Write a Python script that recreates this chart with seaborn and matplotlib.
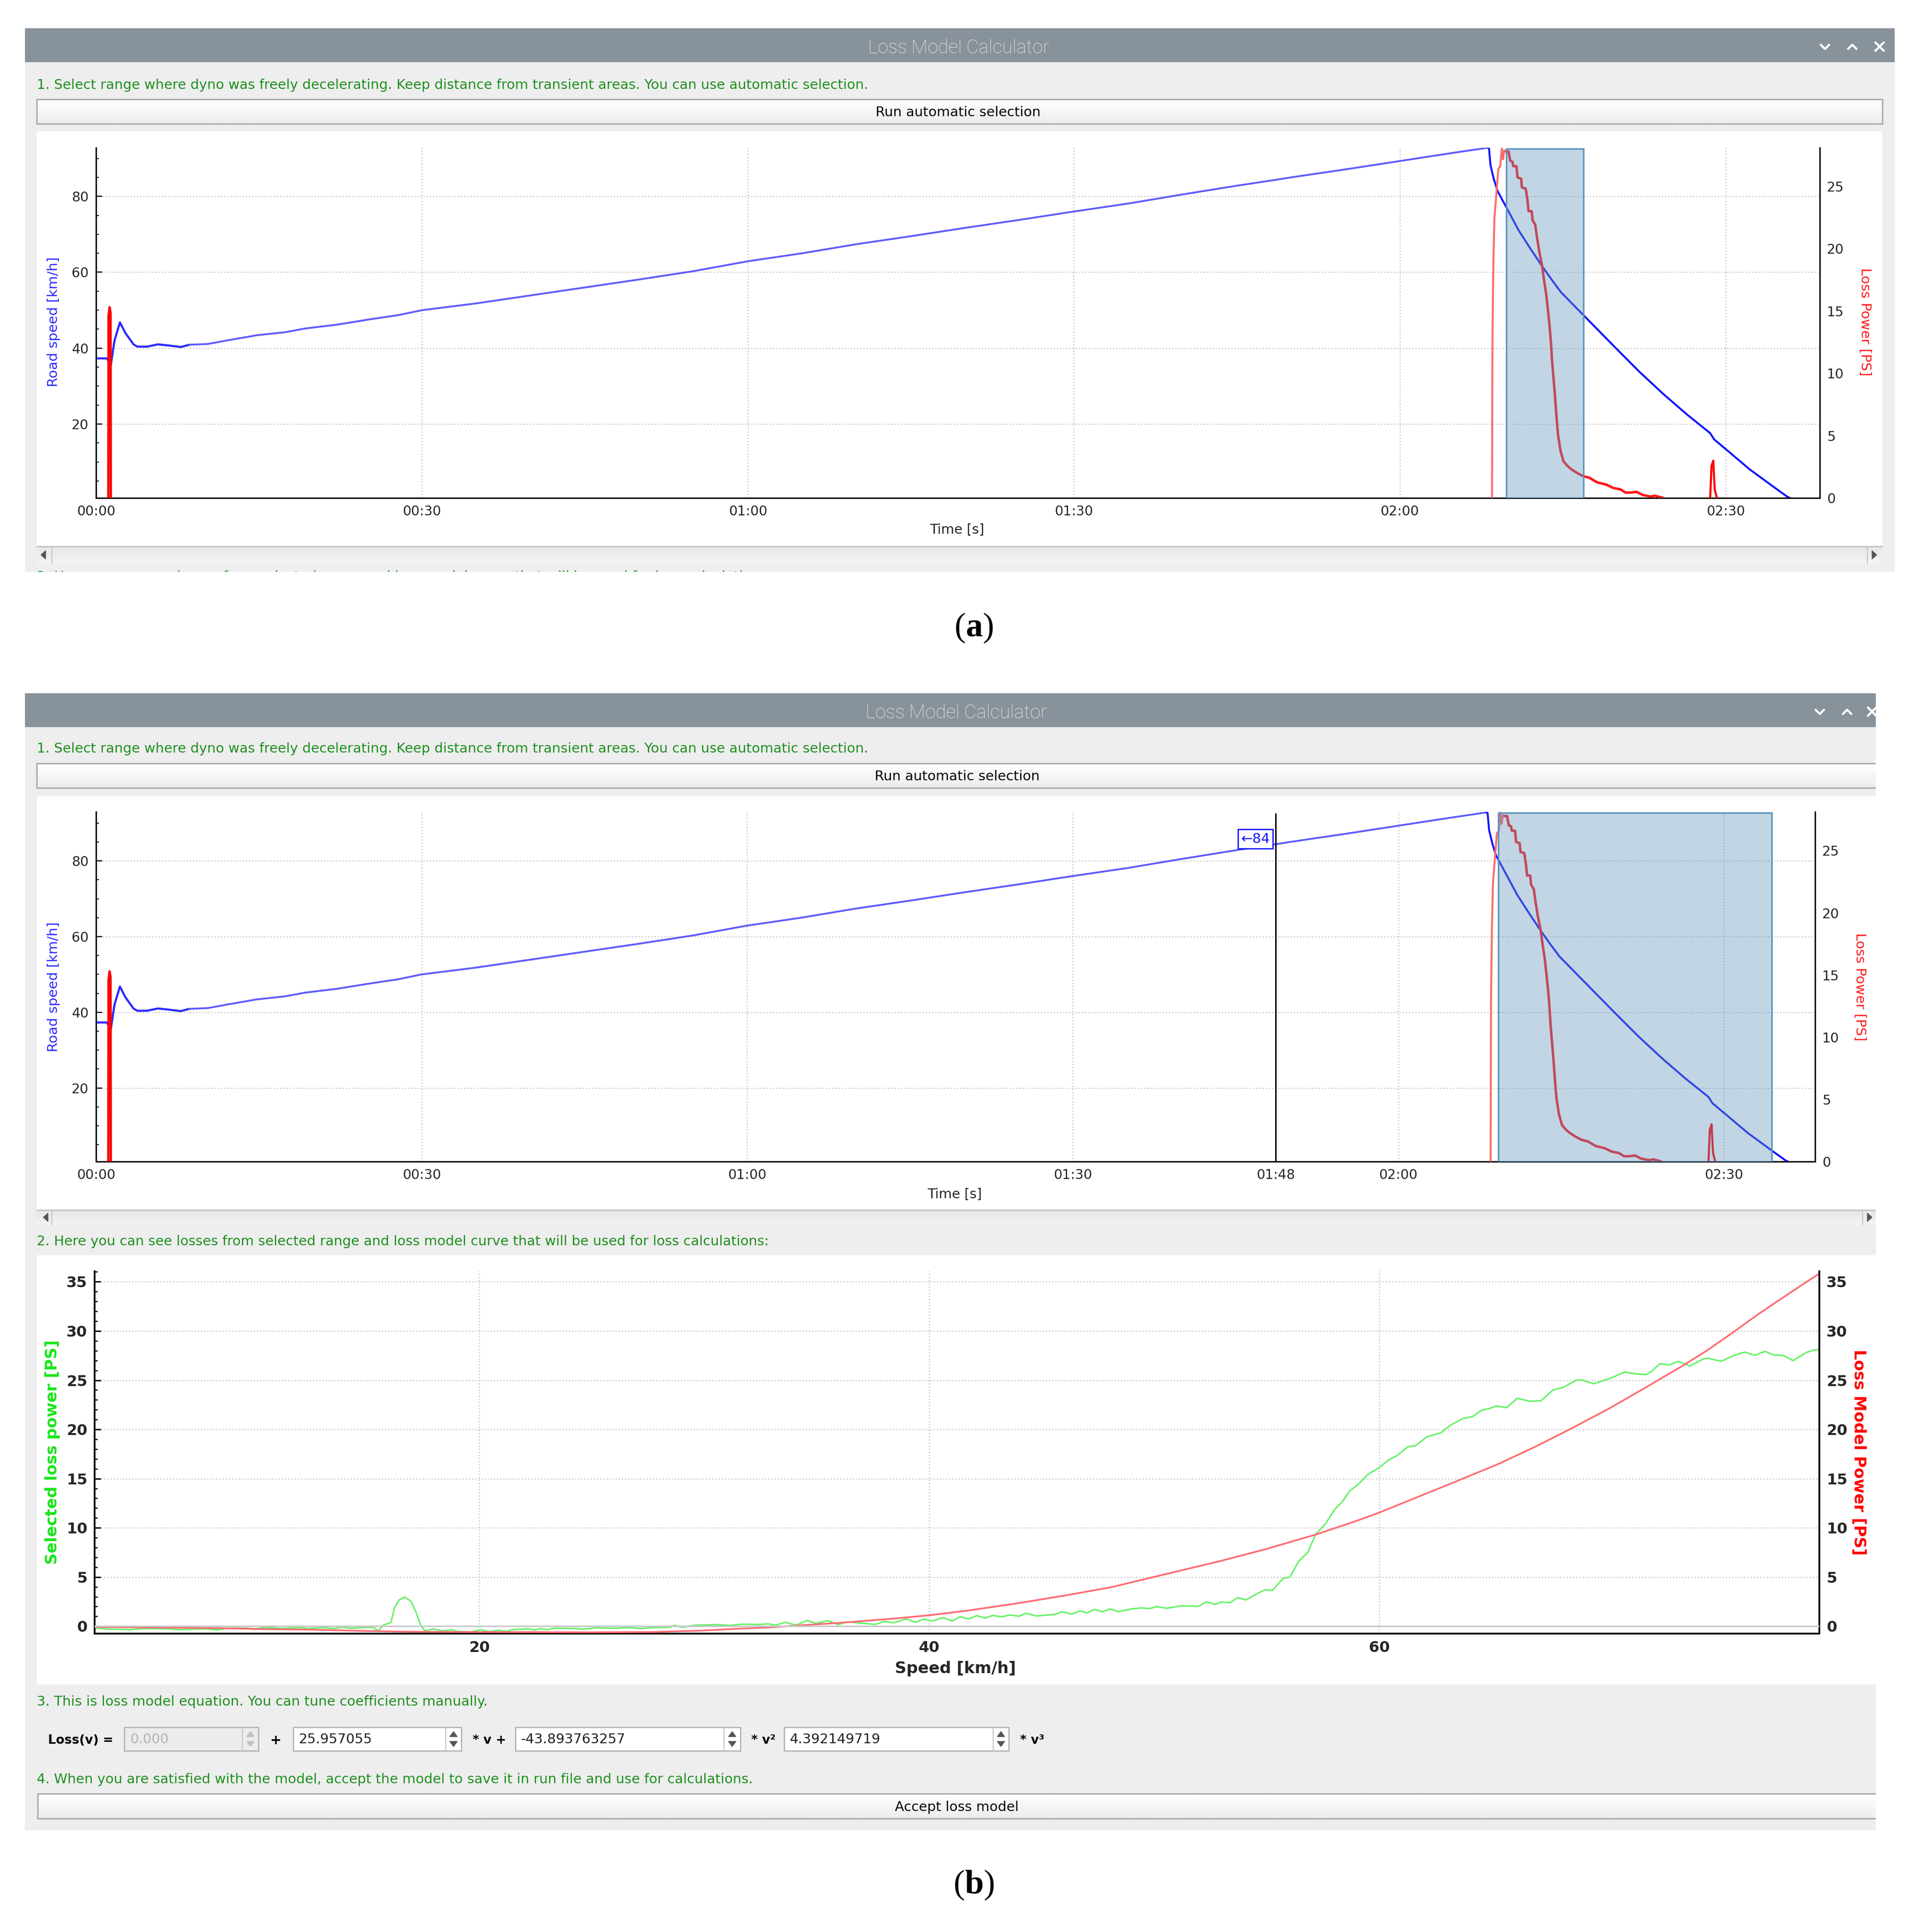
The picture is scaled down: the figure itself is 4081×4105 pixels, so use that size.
import matplotlib
matplotlib.use('Agg')
import numpy as np
import seaborn as sns
import matplotlib.pyplot as plt
from matplotlib.patches import Rectangle
from matplotlib.ticker import FixedLocator, MultipleLocator

W, H = 4081, 4105

# road speed over time (seconds, km/h)
start_t = [0, 1.0, 1.36, 1.7, 2.2, 2.7, 3.45, 3.8, 4.7, 5.7, 6.7, 7.8, 8.6]
start_v = [37.3, 37.3, 35.5, 42, 46.8, 44, 41, 40.4, 40.4, 41, 40.7, 40.3, 40.9]
rise_t = [8.6, 10.3, 12, 14.8, 17.4, 19.3, 22.2, 25, 27.8, 30, 35, 40, 45, 50, 55, 60, 65, 70, 75, 80,
          85, 90, 95, 100, 105, 108.7, 110, 115, 120, 125, 128.1]
rise_v = [40.9, 41.1, 42, 43.4, 44.2, 45.2, 46.2, 47.5, 48.7, 50, 51.8, 53.9, 56, 58.1, 60.3, 62.9, 65,
          67.4, 69.5, 71.7, 73.8, 76, 78.1, 80.5, 82.8, 84.4, 85, 87.1, 89.3, 91.5, 92.8]
fall_t = [128.1, 128.22, 128.36, 128.65, 129.01, 129.8, 130.96, 131.97, 133.13, 134, 134.86, 136.88, 139.92,
          142.08, 144.25, 146.42, 148.58, 148.94, 150.32, 152.19, 154.36, 155.66, 155.95]
fall_v = [92.8, 92.7, 88.2, 84.7, 81.4, 77.2, 71, 66.5, 61.5, 58, 54.7, 48.8, 39.94,
          33.74, 27.96, 22.58, 17.6, 15.97, 12.66, 8.12, 3.57, 0.88, 0.47]

# loss power over time (seconds, PS)
spike1_t = [1.13, 1.15, 1.25, 1.34, 1.36]
spike1_p = [0, 14.6, 15.3, 14.8, 0]
loss_up_t = [128.5, 128.54, 128.62, 128.72, 128.87, 129.08, 129.26, 129.4, 129.52, 129.62, 129.8]
loss_up_p = [0, 12.87, 18.65, 22.45, 24.07, 26.4, 26.6, 28.05, 27.15, 27.87, 27.78]
loss_down_t = [129.8, 130.02, 130.17, 130.38, 130.46, 130.75, 130.85, 131.18, 131.25, 131.6, 131.76, 131.86,
               132.15, 132.23, 132.48, 132.62, 132.84, 133.1, 133.3, 133.49, 133.63, 133.78, 133.92, 134.02,
               134.14, 134.28, 134.43, 134.57, 134.79, 135.08, 135.44, 135.8, 136.3, 136.88, 137.46, 138.18,
               139.05, 139.63, 140.35, 140.78, 141.29, 141.8, 142.37, 143.1, 143.5, 144.25]
loss_down_p = [27.78, 27.78, 27.05, 26.96, 26.6, 26.6, 25.7, 25.6, 24.9, 24.8, 23.9, 23,
               23, 22.27, 21.9, 21, 19.8, 18.65, 17.4, 16.3, 15.2, 13.95, 12.5, 11.06,
               9.8, 8.35, 6.54, 5.1, 3.83, 2.93, 2.57, 2.3, 2.02, 1.75, 1.62, 1.25,
               1.06, 0.81, 0.68, 0.43, 0.43, 0.49, 0.24, 0.11, 0.18, 0]
spike2_t = [148.58, 148.7, 148.87, 148.9, 149, 149.2]
spike2_p = [0, 2.57, 3.0, 2.3, 0.68, 0]

# selected loss power vs speed
green_v = [2.89, 3.53, 4.49, 5.02, 5.98, 6.62, 7.26, 7.9, 8.33, 8.86, 9.72, 9.93, 10.47, 11.21, 12.07, 12.39,
           13.03, 13.56, 13.88, 14.31, 14.95, 15.27, 15.5, 15.75, 16.07, 16.23, 16.44, 16.69, 16.97, 17.19, 17.4,
           17.59, 17.93, 18.36, 18.79, 19, 19.62, 20.05, 20.47, 20.85, 21.22, 21.43, 22.18, 22.45, 22.71, 23.03,
           23.35, 24.31, 24.63, 25.17, 26.02, 26.56, 27.2, 27.73, 28.48, 28.69, 29.01, 29.54, 30.61, 31.14, 31.68,
           32.42, 32.85, 33.17, 33.6, 34.08, 34.56, 34.98, 35.47, 35.95, 36.35, 36.94, 37.58, 38, 38.43, 38.96,
           39.39, 39.76, 40.14, 40.62, 41.01, 41.37, 41.74, 42.11, 42.49, 42.81, 43.23, 43.61, 43.98, 44.3, 44.78,
           45.58, 45.9, 46.33, 46.7, 47.02, 47.34, 47.69, 48.03, 48.41, 49, 49.41, 49.81, 50.11, 50.56, 51.21,
           51.96, 52.31, 52.71, 53.01, 53.36, 53.71, 54.07, 54.47, 54.92, 55.25, 55.72, 56.02, 56.42, 56.82, 57.17,
           57.62, 58.02, 58.37, 58.67, 59.07, 59.52, 59.97, 60.42, 60.82, 61.27, 61.62, 62.12, 62.73, 63.17, 63.72,
           64.16, 64.54, 64.87, 65.2, 65.67, 66.13, 66.68, 67.18, 67.73, 68.16, 68.77, 68.99, 69.54, 70.31, 70.91,
           71.29, 71.84, 72.06, 72.48, 72.89, 73.29, 73.82, 74.42, 74.64, 75.19, 75.8, 76.24, 76.7, 77.14, 77.55,
           77.94, 78.4, 78.98, 79.31, 79.56]
green_p = [-0.19, -0.29, -0.35, -0.24, -0.24, -0.35, -0.3, -0.27, -0.38, -0.19, -0.19, -0.32, -0.11, -0.22, -0.14, -0.24,
           -0.13, -0.24, -0.08, -0.21, -0.11, -0.11, -0.48, 0.13, 0.37, 1.88, 2.68, 2.97, 2.52, 1.4, 0.05,
           -0.48, -0.27, -0.48, -0.35, -0.51, -0.59, -0.35, -0.56, -0.4, -0.54, -0.35, -0.27, -0.38, -0.24, -0.35,
           -0.19, -0.24, -0.3, -0.16, -0.22, -0.13, -0.24, -0.13, -0.11, 0.1, -0.11, 0.1, 0.16, 0.08, 0.21,
           0.18, 0.24, 0.1, 0.4, 0.1, 0.57, 0.29, 0.57, 0.16, 0.45, 0.32, 0.19, 0.48, 0.35, 0.75,
           0.4, 0.72, 0.53, 0.88, 0.53, 0.96, 0.75, 1.07, 0.83, 1.09, 0.96, 1.15, 1.01, 1.31, 1.04,
           1.2, 1.48, 1.23, 1.55, 1.36, 1.71, 1.47, 1.76, 1.48, 1.76, 1.86, 1.8, 1.99, 1.83, 2.07,
           2.02, 2.47, 2.23, 2.47, 2.39, 2.91, 2.67, 3.19, 3.7, 3.63, 4.86, 4.97, 6.61, 7.49, 9.33,
           10.44, 11.88, 12.68, 13.71, 14.43, 15.47, 16.06, 16.9, 17.38, 18.23, 18.34, 19.25, 19.64, 20.43, 21.1,
           21.31, 21.94, 22.1, 22.37, 22.21, 23.16, 22.86, 22.9, 24.01, 24.25, 25.01, 25.01, 24.64, 25.23, 25.83,
           25.68, 25.55, 25.83, 26.66, 26.55, 26.91, 26.44, 27.18, 27.22, 26.91, 27.55, 27.85, 27.53, 27.93, 27.55,
           27.53, 26.99, 27.82, 28.06, 28.09]

# loss model curve vs speed
model_v = [2.89, 5.34, 8.2, 10.36, 12.49, 15, 16.76, 19.62, 25.06, 27.73, 29.97, 31.36, 32.96, 34.56, 36.35, 38.54,
           40.03, 41.74, 43.87, 46, 48.14, 50.06, 52.91, 54.92, 57.2, 58.92, 60.01, 60.92, 62.92, 65.26, 66.9,
           68.55, 70.2, 71.84, 73.49, 74.59, 75.69, 76.78, 77.88, 78.98, 79.62]
model_p = [-0.08, -0.13, -0.19, -0.29, -0.35, -0.48, -0.56, -0.59, -0.62, -0.59, -0.43, -0.27, -0.11, 0.13, 0.4, 0.8,
           1.12, 1.6, 2.31, 3.11, 3.99, 5.05, 6.61, 7.81, 9.33, 10.65, 11.56, 12.4, 14.25, 16.45, 18.2,
           20.1, 22.1, 24.25, 26.47, 28.05, 29.8, 31.6, 33.3, 34.97, 35.92]

time_ticks_a = [0, 30, 60, 90, 120, 150]
time_labels_a = ['00:00', '00:30', '01:00', '01:30', '02:00', '02:30']
cursor_t = 108.7
cursor_label = '01:48'
select_a = (129.8, 136.9)
select_b = (129.2, 154.4)
speed_ticks = [20, 40, 60, 80]
loss_ticks = [0, 5, 10, 15, 20, 25]
power_ticks = [0, 5, 10, 15, 20, 25, 30, 35]
kmh_ticks = [20, 40, 60]

step1 = '1. Select range where dyno was freely decelerating. Keep distance from transient areas. You can use automatic selection.'
step2 = '2. Here you can see losses from selected range and loss model curve that will be used for loss calculations:'
step3 = '3. This is loss model equation. You can tune coefficients manually.'
step4 = '4. When you are satisfied with the model, accept the model to save it in run file and use for calculations.'

sns.set_theme(style='white')
plt.rcParams['font.family'] = ['DejaVu Sans']
plt.rcParams['mathtext.fontset'] = 'custom'
plt.rcParams['mathtext.bf'] = 'Liberation Serif:bold'
plt.rcParams['mathtext.rm'] = 'Liberation Serif'

GREEN = '#1f8f1f'
BAR = '#88929b'
BG = '#eeeeee'
GRID = '#c6c6c6'

fig = plt.figure(figsize=(W / 100, H / 100), dpi=100, facecolor='white')
ui = fig.add_axes([0, 0, 1, 1], zorder=0)
ui.set_axis_off()


def box(x0, y0, x1, y1, color, z=1, edge='none', lw=0):
    ui.add_patch(Rectangle((x0, y0), x1 - x0, y1 - y0, facecolor=color, edgecolor=edge, linewidth=lw, zorder=z))


def gradient(x0, y0, x1, y1, edge='#aaaaaa'):
    shade = np.linspace(1.0, 0.925, 32).reshape(-1, 1)
    ui.imshow(shade, cmap='gray', vmin=0, vmax=1, extent=(x0, x1, y1, y0), aspect='auto', zorder=1.5)
    ui.add_patch(Rectangle((x0, y0), x1 - x0, y1 - y0, fill=False, edgecolor=edge, linewidth=2.2, zorder=1.6))


def note(x, y, s, size=20.8, color='black', ha='left', weight='normal', z=2, **kw):
    ui.text(x, y, s, fontsize=size, color=color, ha=ha, va='center', fontweight=weight, zorder=z, **kw)


def title_bar(top, bottom, right, centre, marks):
    box(53, top, right, bottom, BAR)
    ui.text(centre, (top + bottom) / 2 + 6, 'Loss Model Calculator', fontsize=29, color='#e6e9eb',
            family='Roboto', ha='center', va='center', zorder=2, fontweight='light')
    cy = (top + bottom) / 2 + 3
    d = 9
    a, b, c = marks
    ui.plot([a - d, a, a + d], [cy - 4, cy + 5, cy - 4], color='white', lw=3.2, zorder=2)
    ui.plot([b - d, b, b + d], [cy + 5, cy - 4, cy + 5], color='white', lw=3.2, zorder=2)
    ui.plot([c - d, c + d], [cy - 9, cy + 9], color='white', lw=3.2, zorder=2)
    ui.plot([c - d, c + d], [cy + 9, cy - 9], color='white', lw=3.2, zorder=2)


def scrollbar(y0, y1, right, sep_l, sep_r, ax_l, ax_r):
    shade = np.linspace(0.9, 0.95, 8).reshape(-1, 1)
    ui.imshow(shade, cmap='gray', vmin=0, vmax=1, extent=(78, right, y1, y0), aspect='auto', zorder=1.5)
    ui.plot([78, right], [y0, y0], color='#c4c4c4', lw=2.2, zorder=1.7)
    ui.plot([sep_l, sep_l], [y0, y1], color='#c4c4c4', lw=1.6, zorder=1.7)
    ui.plot([sep_r, sep_r], [y0, y1], color='#c4c4c4', lw=1.6, zorder=1.7)
    cy = (y0 + y1) / 2
    ui.fill([ax_l + 5, ax_l + 5, ax_l - 5], [cy - 9, cy + 9, cy], color='#555555', zorder=2)
    ui.fill([ax_r - 5, ax_r - 5, ax_r + 5], [cy - 9, cy + 9, cy], color='#555555', zorder=2)


def spinbox(x0, sep, x1, y0, y1, txt, disabled=False):
    box(x0, y0, x1, y1, '#ececec' if disabled else 'white', z=1.5, edge='#b4b4b4', lw=2)
    ui.plot([sep, sep], [y0, y1], color='#c4c4c4', lw=1.6, zorder=1.7)
    cx = (sep + x1) / 2
    c = '#c2c2c2' if disabled else '#555555'
    ui.fill([cx - 8, cx + 8, cx], [y0 + 20, y0 + 20, y0 + 9], color=c, zorder=2)
    ui.fill([cx - 8, cx + 8, cx], [y1 - 20, y1 - 20, y1 - 9], color=c, zorder=2)
    note(x0 + 12, (y0 + y1) / 2 + 1, txt, color='#b4b4b4' if disabled else '#222222')


def add_axes_px(left, top, right, bottom):
    ax = fig.add_axes([left / W, 1 - bottom / H, (right - left) / W, (bottom - top) / H], zorder=2)
    ax.patch.set_visible(False)
    return ax


def style_axis(ax, size, weight='normal', lw=2.2):
    ax.tick_params(axis='both', which='major', direction='in', length=9.5, width=lw * 0.8, labelsize=size, pad=11, color='black')
    ax.tick_params(axis='both', which='minor', direction='in', length=4.5, width=lw * 0.7, color='black')
    for s in ax.spines.values():
        s.set_linewidth(lw)
        s.set_color('black')
    for t in ax.get_xticklabels() + ax.get_yticklabels():
        t.set_fontweight(weight)


def time_panel(left, top, right, bottom, xmax, ylim, ylim2, ticks, labels, select, y_pos, y2_pos, x_lab):
    ax = add_axes_px(left, top, right, bottom)
    ax2 = ax.twinx()
    ax2.set_zorder(3)
    ax2.patch.set_visible(False)

    sns.lineplot(x=start_t, y=start_v, ax=ax, color='#2a2aff', lw=3.2, estimator=None, sort=False)
    sns.lineplot(x=rise_t, y=rise_v, ax=ax, color='#5c5cff', lw=2.8, estimator=None, sort=False)
    sns.lineplot(x=fall_t, y=fall_v, ax=ax, color='#1414ff', lw=3, estimator=None, sort=False)

    sns.lineplot(x=spike1_t, y=spike1_p, ax=ax2, color='#ff0000', lw=3.6, estimator=None, sort=False)
    sns.lineplot(x=loss_up_t, y=loss_up_p, ax=ax2, color='#ff6a6a', lw=3, estimator=None, sort=False)
    sns.lineplot(x=loss_down_t, y=loss_down_p, ax=ax2, color='#ff1818', lw=3.8, estimator=None, sort=False)
    sns.lineplot(x=spike2_t, y=spike2_p, ax=ax2, color='#ff0000', lw=3.2, estimator=None, sort=False)
    ax2.axvspan(select[0], select[1], ymin=0, ymax=0.997, facecolor=(100 / 255, 150 / 255, 190 / 255, 0.4),
                edgecolor='#5c94bd', lw=2.4, zorder=6)

    ax.set_xlim(0, xmax)
    ax.set_ylim(*ylim)
    ax2.set_ylim(*ylim2)
    ax.xaxis.set_major_locator(FixedLocator(ticks))
    ax.set_xticklabels(labels)
    ax.xaxis.set_minor_locator(MultipleLocator(10))
    ax.yaxis.set_major_locator(FixedLocator(speed_ticks))
    ax.yaxis.set_minor_locator(MultipleLocator(5))
    ax2.yaxis.set_major_locator(FixedLocator(loss_ticks))
    ax2.yaxis.set_minor_locator(MultipleLocator(1))
    ax.grid(True, which='major', color=GRID, ls=':', lw=1.8)
    sns.despine(ax=ax, top=True, right=True)
    sns.despine(ax=ax2, top=True, left=True, right=False, bottom=True)
    style_axis(ax, 20.5)
    style_axis(ax2, 20.5)

    ax.set_ylabel('Road speed [km/h]', color='#2a2aff', fontsize=21)
    ax.yaxis.set_label_coords(y_pos[0] / W, 1 - y_pos[1] / H, transform=fig.transFigure)
    ax2.set_ylabel('Loss Power [PS]', color='#ff1a1a', fontsize=21, rotation=270, va='center')
    ax2.yaxis.set_label_coords(y2_pos[0] / W, 1 - y2_pos[1] / H, transform=fig.transFigure)
    ax.set_xlabel('Time [s]', fontsize=20.5)
    ax.xaxis.set_label_coords(x_lab[0] / W, 1 - x_lab[1] / H, transform=fig.transFigure)
    return ax, ax2


# window (a)
box(53, 60, 4025, 1215, BG)
title_bar(60, 132, 4025, 2036, (3877, 3935, 3993))
note(78, 181, step1, color=GREEN)
gradient(78, 211, 3999, 263)
note(2035, 239, 'Run automatic selection', ha='center')
box(78, 279, 3999, 1161, 'white')
scrollbar(1161, 1197, 3999, 110, 3967, 92, 3982)
note(78, 1226, step2, color=GREEN, z=1.2)
box(0, 1215, W, 1300, 'white', z=1.3)

time_panel(204, 314, 3866, 1058, 158.67, (0.53, 92.8), (0, 28.08), time_ticks_a, time_labels_a, select_a,
           (128, 684), (3962, 684), (2033, 1112))

ui.text(2069, 1334, r'($\mathbf{a}$)', fontsize=52, ha='center', va='center', family='Liberation Serif', color='black')

# window (b)
box(53, 1473, 3985, 3889, BG)
title_bar(1473, 1545, 3985, 2031, (3866, 3924, 3977))
note(78, 1591, step1, color=GREEN)
gradient(78, 1622, 4060, 1674)
note(2033, 1650, 'Run automatic selection', ha='center')
box(78, 1692, 3985, 2571, 'white')
scrollbar(2571, 2602, 3985, 110, 3957, 97, 3972)

ticks_b = sorted(time_ticks_a + [cursor_t])
labels_b = time_labels_a[:4] + [cursor_label] + time_labels_a[4:]
ax_b, ax_b2 = time_panel(204, 1725, 3856, 2468, 158.4, (0.55, 92.96), (0, 28.12), ticks_b, labels_b, select_b,
                         (128, 2097), (3951, 2097), (2028, 2524))
ax_b.axvline(cursor_t, color='black', lw=2.2, ymax=0.995, zorder=4)
ax_b.annotate('←84', xy=(cursor_t, 85.8), xytext=(-9, 0), textcoords='offset points', ha='right', va='center',
              color='#1414ff', fontsize=21,
              bbox=dict(boxstyle='square,pad=0.22', facecolor='white', edgecolor='#1414ff', lw=2))

# step 2: loss model plot
note(78, 2638, step2, size=20.7, color=GREEN)
box(78, 2667, 3985, 3579, 'white')
ax_c = add_axes_px(201, 2701, 3865, 3471)
ax_d = ax_c.twinx()
ax_d.set_zorder(3)
ax_d.patch.set_visible(False)
sns.lineplot(x=green_v, y=green_p, ax=ax_c, color='#66f266', lw=2.3, estimator=None, sort=False)
sns.lineplot(x=model_v, y=model_p, ax=ax_d, color='#ff6a72', lw=2.6, estimator=None, sort=False)
ax_c.set_xlim(2.9, 79.56)
ax_c.set_ylim(-0.75, 36.07)
ax_d.set_ylim(-0.75, 36.07)
ax_c.xaxis.set_major_locator(FixedLocator(kmh_ticks))
ax_c.xaxis.set_minor_locator(MultipleLocator(5))
for a in (ax_c, ax_d):
    a.yaxis.set_major_locator(FixedLocator(power_ticks))
    a.yaxis.set_minor_locator(MultipleLocator(1))
ax_c.grid(True, which='major', color=GRID, ls=':', lw=1.8)
ax_d.axhline(0, color='#c8c8c8', lw=2.4, zorder=5)
sns.despine(ax=ax_c, top=True, right=True)
sns.despine(ax=ax_d, top=True, left=True, right=False, bottom=True)
style_axis(ax_c, 23, weight='bold', lw=2.6)
style_axis(ax_d, 23, weight='bold', lw=2.6)
ax_c.set_ylabel('Selected loss power [PS]', color='#19e619', fontsize=24.5, fontweight='bold')
ax_c.yaxis.set_label_coords(128 / W, 1 - 3085 / H, transform=fig.transFigure)
ax_d.set_ylabel('Loss Model Power [PS]', color='#ff0000', fontsize=24.5, fontweight='bold', rotation=270, va='center')
ax_d.yaxis.set_label_coords(3949 / W, 1 - 3086 / H, transform=fig.transFigure)
ax_c.set_xlabel('Speed [km/h]', fontsize=24.5, fontweight='bold')
ax_c.xaxis.set_label_coords(2030 / W, 1 - 3529 / H, transform=fig.transFigure)

# step 3: equation row
note(78, 3616, step3, color=GREEN)
note(102, 3698, 'Loss(v) =', size=19, weight='semibold')
spinbox(264, 515, 549, 3670, 3720, '0.000', disabled=True)
note(574, 3698, '+', weight='bold')
spinbox(623, 947, 980, 3670, 3720, '25.957055')
note(1004, 3698, '* v +', size=19, weight='bold')
spinbox(1095, 1538, 1573, 3670, 3720, '-43.893763257')
note(1596, 3698, '* v²', size=19, weight='bold')
spinbox(1666, 2110, 2143, 3670, 3720, '4.392149719')
note(2167, 3698, '* v³', size=19, weight='bold')

# step 4: accept button
note(78, 3781, step4, color=GREEN)
gradient(80, 3811, 4060, 3864)
note(2033, 3840, 'Accept loss model', ha='center')

# everything past the right edge of window (b) is cut off
box(3985, 1473, W, 3889, 'white', z=1.8)

ui.text(2069, 4005, r'($\mathbf{b}$)', fontsize=52, ha='center', va='center', family='Liberation Serif', color='black')

ui.set_xlim(0, W)
ui.set_ylim(H, 0)

fig.savefig('out.png', dpi=100)
